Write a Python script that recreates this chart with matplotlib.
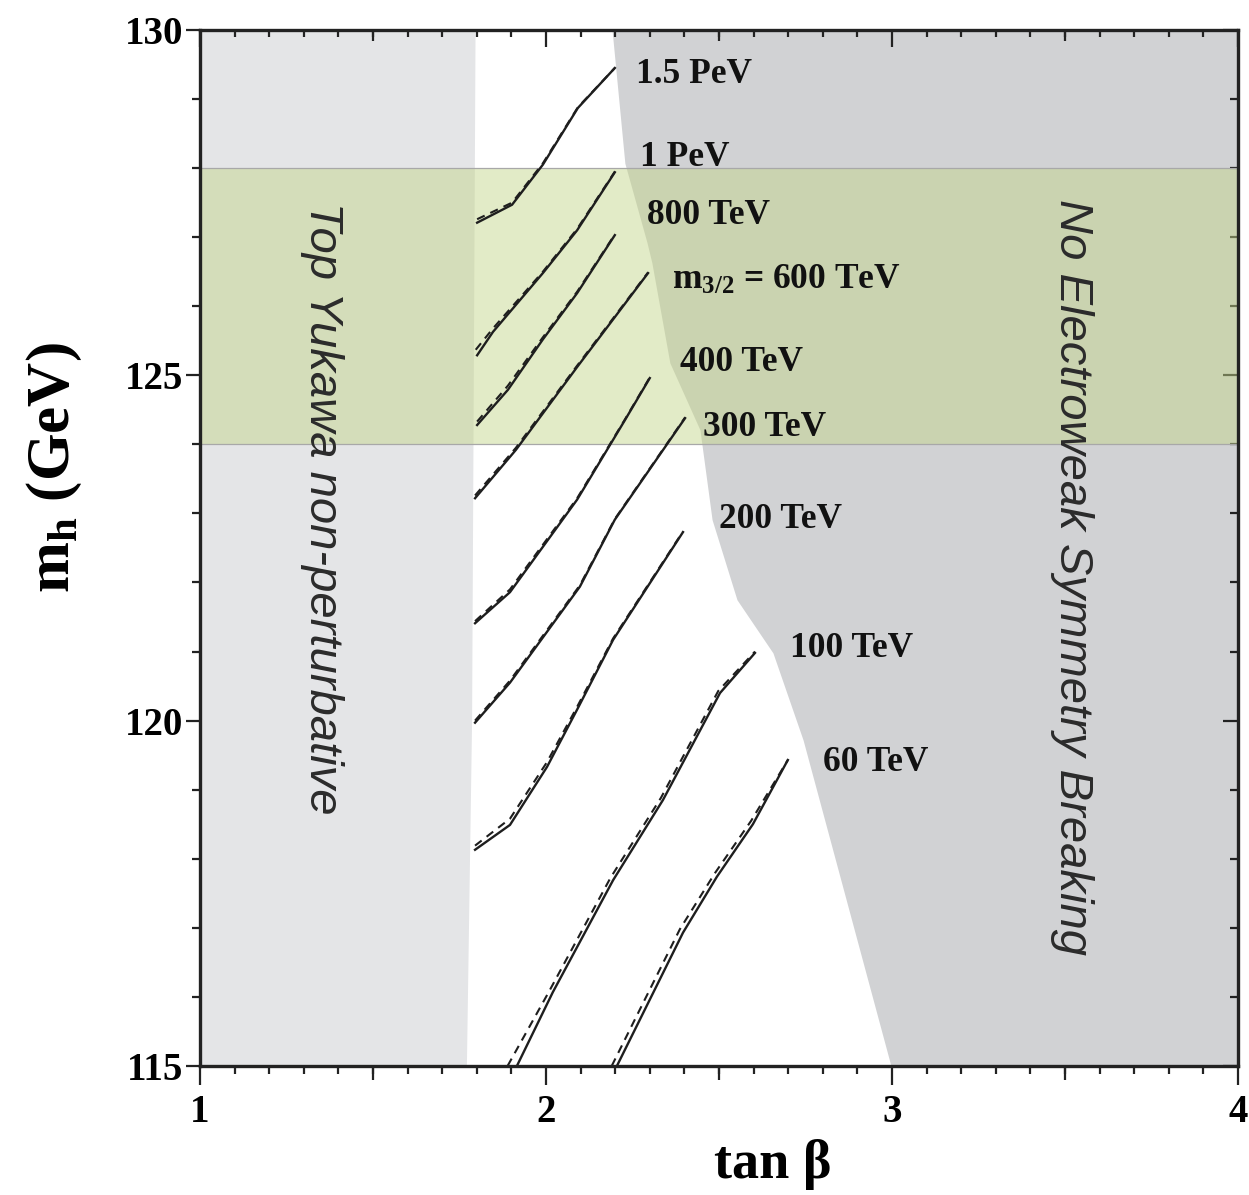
import numpy as np
import matplotlib.pyplot as plt
from matplotlib.ticker import FixedLocator, MultipleLocator

plt.rcParams['font.family'] = ['Liberation Serif', 'DejaVu Serif']
plt.rcParams['font.weight'] = 'bold'
plt.rcParams['mathtext.fontset'] = 'custom'
plt.rcParams['mathtext.rm'] = 'Liberation Serif:bold'
plt.rcParams['mathtext.bf'] = 'Liberation Serif:bold'
plt.rcParams['mathtext.it'] = 'Liberation Serif:bold'

# excluded regions (boundary points)
yukawa_tb = [1.795, 1.79, 1.785, 1.77]
yukawa_mh = [130, 125, 120, 115]
ewsb_tb = [2.191, 2.228, 2.292, 2.306, 2.358, 2.402, 2.445, 2.480, 2.552, 2.656, 2.743, 2.997]
ewsb_mh = [130, 128.07, 126.92, 126.63, 125.18, 124.69, 124.21, 122.91, 121.75, 120.98, 119.72, 115]
higgs_band = [124, 128]

# m_3/2 contours: solid and dashed
c1500_tb = [1.801, 1.902, 1.991, 2.092, 2.199]
c1500_mh = [127.21, 127.47, 128.05, 128.87, 129.45]
c1500d_tb = [1.801, 1.902, 1.991, 2.092, 2.199]
c1500d_mh = [127.26, 127.50, 128.07, 128.88, 129.45]

c1000_tb = [1.801, 1.847, 1.991, 2.09, 2.199]
c1000_mh = [125.29, 125.63, 126.48, 127.10, 127.94]
c1000d_tb = [1.797, 1.847, 1.991, 2.09, 2.199]
c1000d_mh = [125.37, 125.68, 126.50, 127.12, 127.95]

c800_tb = [1.801, 1.89, 1.991, 2.09, 2.199]
c800_mh = [124.28, 124.79, 125.52, 126.19, 127.03]
c800d_tb = [1.801, 1.89, 1.991, 2.09, 2.199]
c800d_mh = [124.33, 124.85, 125.55, 126.21, 127.04]

c600_tb = [1.795, 1.913, 2.09, 2.295]
c600_mh = [123.22, 123.92, 125.12, 126.48]
c600d_tb = [1.795, 1.913, 2.09, 2.295]
c600d_mh = [123.26, 123.95, 125.14, 126.49]

c400_tb = [1.795, 1.896, 2.09, 2.228, 2.30]
c400_mh = [121.41, 121.86, 123.20, 124.35, 124.96]
c400d_tb = [1.795, 1.896, 2.09, 2.228, 2.30]
c400d_mh = [121.44, 121.90, 123.22, 124.36, 124.97]

c300_tb = [1.795, 1.896, 2.098, 2.199, 2.402]
c300_mh = [119.97, 120.55, 121.94, 122.91, 124.38]
c300d_tb = [1.795, 1.896, 2.098, 2.199, 2.402]
c300d_mh = [120.00, 120.58, 121.96, 122.92, 124.39]

c200_tb = [1.795, 1.896, 2.003, 2.09, 2.194, 2.396]
c200_mh = [118.13, 118.49, 119.33, 120.16, 121.17, 122.73]
c200d_tb = [1.795, 1.896, 2.003, 2.09, 2.194, 2.396]
c200d_mh = [118.19, 118.58, 119.40, 120.20, 121.19, 122.74]

c100_tb = [1.916, 2.02, 2.194, 2.338, 2.503, 2.604]
c100_mh = [115.0, 116.07, 117.69, 118.85, 120.40, 120.98]
c100d_tb = [1.889, 2.008, 2.186, 2.332, 2.498, 2.604]
c100d_mh = [115.0, 116.07, 117.72, 118.88, 120.43, 121.0]

c60_tb = [2.205, 2.396, 2.494, 2.598, 2.699]
c60_mh = [115.0, 116.93, 117.74, 118.50, 119.43]
c60d_tb = [2.19, 2.387, 2.488, 2.593, 2.699]
c60d_mh = [115.0, 116.98, 117.79, 118.55, 119.43]

labels = ['1.5 PeV', '1 PeV', '800 TeV', r'm$_{3/2}$ = 600 TeV', '400 TeV',
          '300 TeV', '200 TeV', '100 TeV', '60 TeV']
label_tb = [2.26, 2.272, 2.292, 2.364, 2.387, 2.454, 2.50, 2.705, 2.80]
label_mh = [129.35, 128.15, 127.32, 126.38, 125.19, 124.24, 122.91, 121.05, 119.39]

solid = [(c1500_tb, c1500_mh), (c1000_tb, c1000_mh), (c800_tb, c800_mh), (c600_tb, c600_mh),
         (c400_tb, c400_mh), (c300_tb, c300_mh), (c200_tb, c200_mh), (c100_tb, c100_mh),
         (c60_tb, c60_mh)]
dashed = [(c1500d_tb, c1500d_mh), (c1000d_tb, c1000d_mh), (c800d_tb, c800d_mh), (c600d_tb, c600d_mh),
          (c400d_tb, c400d_mh), (c300d_tb, c300d_mh), (c200d_tb, c200d_mh), (c100d_tb, c100d_mh),
          (c60d_tb, c60d_mh)]

fig = plt.figure(figsize=(12.49, 11.95), dpi=100)
ax = fig.add_axes([0.1601, 0.108, 0.8311, 0.8669])
ax.set_xlim(1, 4)
ax.set_ylim(115, 130)

ax.fill_betweenx(yukawa_mh, 1, yukawa_tb, color='#e4e5e7', lw=0, zorder=0)
ax.fill_betweenx(ewsb_mh, ewsb_tb, 4, color='#d1d2d4', lw=0, zorder=0)
ax.axhspan(higgs_band[0], higgs_band[1], color=(0.77, 0.84, 0.54), alpha=0.48, lw=0, zorder=1)
for y in higgs_band:
    ax.axhline(y, color='#a8a8a8', lw=0.9, zorder=1)

for tb, mh in dashed:
    ax.plot(tb, mh, color='#1e1e1e', lw=1.5, ls=(0, (4, 3)), zorder=3)
for tb, mh in solid:
    ax.plot(tb, mh, color='#1e1e1e', lw=1.7, zorder=3)

for txt, x, y in zip(labels, label_tb, label_mh):
    ax.text(x, y, txt, fontsize=25.5, fontweight='bold', ha='left', va='center', color='#111111', zorder=4)

ax.text(1.353, 123.08, 'Top Yukawa non-perturbative', family='Liberation Sans', style='italic',
        fontweight='normal', fontsize=34, rotation=-90, ha='center', va='center', color='#2b2b2b', zorder=4)
ax.text(3.52, 122.08, 'No Electroweak Symmetry Breaking', family='Liberation Sans', style='italic',
        fontweight='normal', fontsize=34, rotation=-90, ha='center', va='center', color='#2b2b2b', zorder=4)

# ticks
ax.xaxis.set_major_locator(FixedLocator([1, 2, 3, 4]))
ax.xaxis.set_minor_locator(MultipleLocator(0.1))
ax.yaxis.set_major_locator(FixedLocator([115, 120, 125, 130]))
ax.yaxis.set_minor_locator(MultipleLocator(1))
ax.tick_params(axis='x', which='major', direction='out', length=14, width=1.6, labelsize=28, pad=6, color='#222222')
ax.tick_params(axis='x', which='minor', direction='out', length=6, width=1.6, color='#222222')
ax.tick_params(axis='y', which='major', direction='out', length=10, width=1.6, labelsize=28, pad=2, color='#222222')
ax.tick_params(axis='y', which='minor', direction='out', length=6, width=1.6, color='#222222')

half = ax.secondary_xaxis('bottom')
half.set_xticks([1.5, 2.5, 3.5])
half.tick_params(direction='out', length=10, width=1.6, labelbottom=False, color='#222222')
half.spines['bottom'].set_visible(False)

top = ax.secondary_xaxis('top')
top.set_xticks([1, 2, 3, 4])
top.xaxis.set_minor_locator(MultipleLocator(0.1))
top.tick_params(which='major', direction='in', length=12, width=1.6, labeltop=False, color='#222222')
top.tick_params(which='minor', direction='in', length=5, width=1.6, color='#222222')
top.spines['top'].set_visible(False)
top_half = ax.secondary_xaxis('top')
top_half.set_xticks([1.5, 2.5, 3.5])
top_half.tick_params(direction='in', length=8, width=1.6, labeltop=False, color='#222222')
top_half.spines['top'].set_visible(False)

right = ax.secondary_yaxis('right')
right.set_yticks([115, 120, 125, 130])
right.yaxis.set_minor_locator(MultipleLocator(1))
right.tick_params(which='major', direction='in', length=11, width=1.6, labelright=False, color='#222222')
right.tick_params(which='minor', direction='in', length=6, width=1.6, color='#222222')
right.spines['right'].set_visible(False)

for s in ax.spines.values():
    s.set_linewidth(2.4)
    s.set_color('#222222')
    s.set_zorder(5)

ax.set_xlabel('tan β', fontsize=39, fontweight='bold', va='center', ha='center')
ax.xaxis.set_label_coords(0.552, -0.0956)
ax.set_ylabel(r'm$_{\rm h}$ (GeV)', fontsize=44, fontweight='bold', va='center', ha='center')
ax.yaxis.set_label_coords(-0.14, 0.578)

fig.savefig('out.png', dpi=100)
